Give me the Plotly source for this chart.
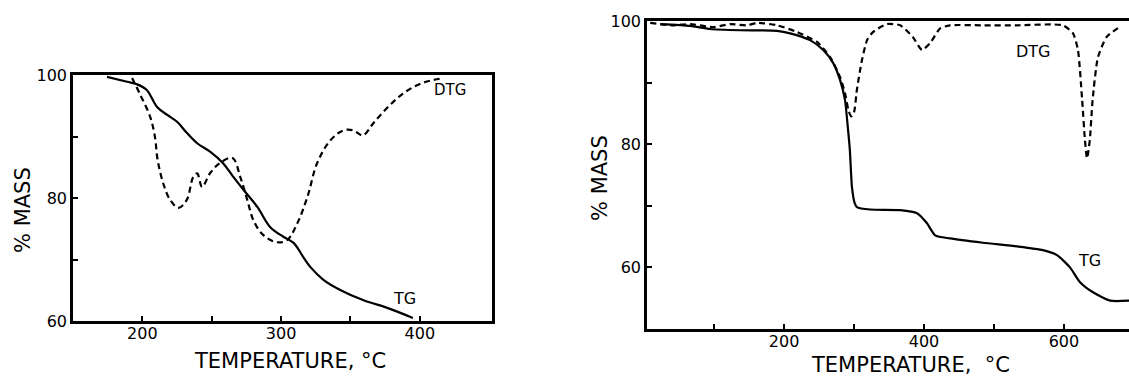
import plotly.graph_objects as go

# ---- Left panel data ----
left_tg_temp = [174.5, 189, 196, 203, 210.6, 218, 225, 232, 239.5, 249, 258, 265, 273, 283, 292, 301.6, 309, 316, 321, 330.5, 343, 359, 377, 395]
left_tg_mass = [99.7, 98.9, 98.5, 97.6, 94.8, 93.5, 92.4, 90.6, 88.9, 87.5, 85.7, 83.6, 81.3, 78.5, 75.3, 73.7, 72.7, 70.4, 68.8, 66.7, 65.0, 63.4, 62.1, 60.5]

left_dtg_temp = [192.6, 198, 205.6, 209, 211, 215, 220, 226, 232, 236.6, 239.5, 243, 249, 256, 265, 270.6, 275.6, 280, 287, 297, 304.5, 311.7, 319, 326, 335.6, 345, 352, 359, 366.6, 377, 388, 400.5, 417]
left_dtg_mass = [99.5, 97.0, 93.2, 90.0, 86.2, 82.4, 79.7, 78.4, 79.7, 83.4, 84.0, 81.8, 84.1, 85.7, 86.5, 83.4, 79.7, 76.4, 74.0, 72.8, 73.2, 75.9, 80.2, 85.7, 89.4, 91.0, 91.0, 90.2, 92.2, 94.8, 97.0, 98.6, 99.5]

# ---- Right panel data ----
right_tg_temp = [23, 66, 94, 137, 190, 208.6, 237, 256, 270, 280, 287, 291, 294, 297, 301, 304, 323, 366, 390, 404, 416, 437, 484, 533, 570, 590, 608.6, 623, 641, 666, 693]
right_tg_mass = [99.5, 99.2, 98.7, 98.5, 98.4, 98.0, 96.9, 95.3, 93.2, 90.4, 87.2, 82.8, 79.0, 73.0, 70.4, 69.8, 69.4, 69.3, 68.8, 67.2, 65.2, 64.7, 64.0, 63.4, 62.8, 62.0, 60.0, 57.6, 56.0, 54.6, 54.6]

right_dtg_temp = [8.6, 40, 66, 99, 123, 147, 161, 190, 218.6, 247, 266, 280, 287, 292, 296, 300, 304, 311, 318.6, 327, 347, 366, 384, 397, 408.6, 423, 437, 484, 533, 598.6, 613, 620, 626, 630, 633, 637, 641, 648.6, 661, 679]
right_dtg_mass = [99.7, 99.3, 99.5, 99.0, 99.5, 99.3, 99.7, 99.3, 98.2, 96.6, 94.1, 90.9, 88.3, 85.5, 84.5, 85.2, 88.8, 93.5, 96.9, 98.2, 99.5, 99.3, 97.4, 95.3, 96.4, 98.8, 99.3, 99.3, 99.3, 99.3, 98.0, 95.3, 87.2, 80.7, 77.7, 80.7, 87.2, 94.1, 97.4, 99.0]

left_xticks = [200, 250, 300, 350, 400]
left_xticktext = ["200", "", "300", "", "400"]
left_yticks = [60, 70, 80, 90, 100]
left_yticktext = ["60", "", "80", "", "100"]
right_xticks = [100, 200, 300, 400, 500, 600]
right_xticktext = ["", "200", "", "400", "", "600"]
right_yticks = [60, 70, 80, 90, 100]
right_yticktext = ["60", "", "80", "", "100"]

FONT = "DejaVu Sans"
fig = go.Figure()

solid = dict(color="black", width=2.2)
dashed = dict(color="black", width=2.2, dash="6px,4px")

fig.add_trace(go.Scatter(x=left_tg_temp, y=left_tg_mass, mode="lines", line=dict(**solid, shape="spline"), xaxis="x", yaxis="y"))
fig.add_trace(go.Scatter(x=left_dtg_temp, y=left_dtg_mass, mode="lines", line=dict(**dashed, shape="spline"), xaxis="x", yaxis="y"))
fig.add_trace(go.Scatter(x=right_tg_temp, y=right_tg_mass, mode="lines", line=dict(**solid, shape="spline", smoothing=0.6), xaxis="x2", yaxis="y2"))
fig.add_trace(go.Scatter(x=right_dtg_temp, y=right_dtg_mass, mode="lines", line=dict(**dashed, shape="spline", smoothing=0.6), xaxis="x2", yaxis="y2"))

W, H = 1129, 380

def px_x(p):
    return p / W

def px_y(p):
    return 1 - p / H

axis_common = dict(showline=True, linecolor="black", linewidth=2.5, ticks="inside", ticklen=5,
                   tickwidth=1.5, tickcolor="black", showgrid=False, zeroline=False,
                   automargin=False,
                   tickfont=dict(family=FONT, size=16, color="black"))

fig.update_layout(
    template="none",
    width=W, height=H,
    margin=dict(l=0, r=0, t=0, b=0, pad=0, autoexpand=False),
    paper_bgcolor="white", plot_bgcolor="white",
    showlegend=False,
    xaxis=dict(domain=[px_x(73), px_x(492)], range=[150, 452], anchor="y", mirror=True,
               ticklabelstandoff=-4,
               tickmode="array", tickvals=left_xticks, ticktext=left_xticktext, **axis_common),
    yaxis=dict(domain=[px_y(321), px_y(75)], range=[60, 100], anchor="x", mirror=True,
               tickmode="array", tickvals=left_yticks, ticktext=left_yticktext, **axis_common),
    xaxis2=dict(domain=[px_x(647), 1.0], range=[4, 693], anchor="y2", mirror=True,
                ticklabelstandoff=-4,
                tickmode="array", tickvals=right_xticks, ticktext=right_xticktext, **axis_common),
    yaxis2=dict(domain=[px_y(329), px_y(21)], range=[50, 100], anchor="x2", mirror=False,
                tickmode="array", tickvals=right_yticks, ticktext=right_yticktext, **axis_common),
)

lab = dict(family=FONT, size=16, color="black")
fig.add_annotation(x=422, y=97.6, xref="x", yref="y", text="DTG", showarrow=False, font=dict(family=FONT, size=15, color="black"))
fig.add_annotation(x=389, y=63.6, xref="x", yref="y", text="TG", showarrow=False, font=lab)
fig.add_annotation(x=556, y=95.1, xref="x2", yref="y2", text="DTG", showarrow=False, font=lab)
fig.add_annotation(x=637, y=61.1, xref="x2", yref="y2", text="TG", showarrow=False, font=lab)

title_font = dict(family=FONT, size=21, color="black")
ctr = dict(xref="paper", yref="paper", showarrow=False, xanchor="center", yanchor="middle")
fig.add_annotation(x=px_x(290), y=px_y(361), text="TEMPERATURE, °C", font=title_font, **ctr)
fig.add_annotation(x=px_x(910), y=px_y(365), text="TEMPERATURE,  °C", font=title_font, **ctr)
fig.add_annotation(x=px_x(23), y=px_y(210), text="% MASS", textangle=-90, font=title_font, **ctr)
fig.add_annotation(x=px_x(600), y=px_y(178), text="% MASS", textangle=-90, font=title_font, **ctr)

fig.write_html("out.html", config={"displayModeBar": False},
               post_script="document.body.style.margin='0px';")
